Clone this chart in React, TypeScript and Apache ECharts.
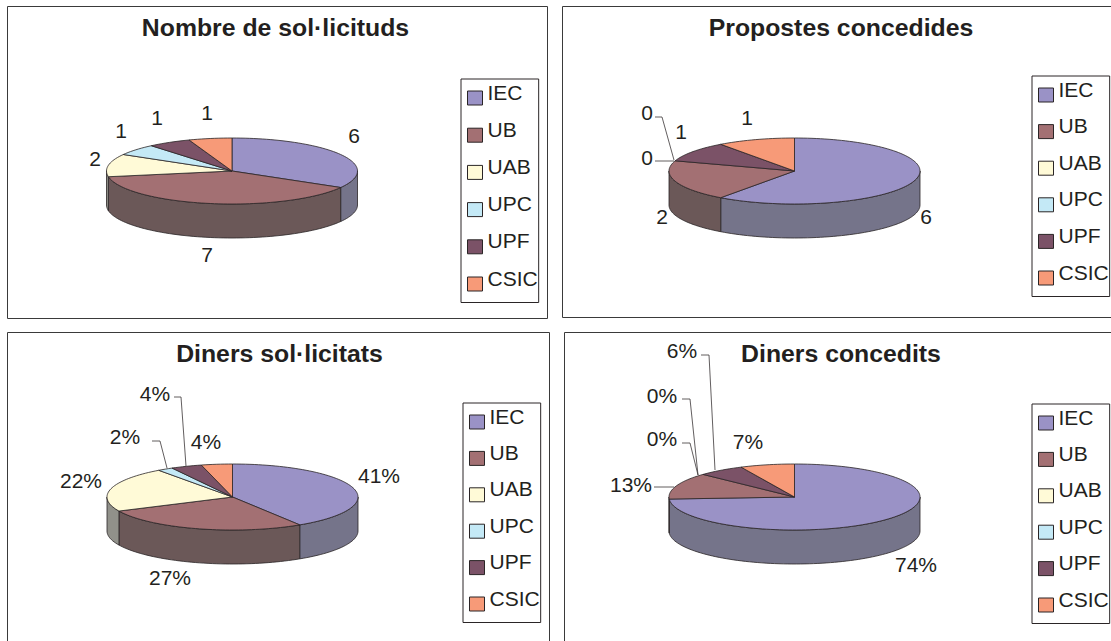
import React, { useEffect, useRef } from "react";
import * as echarts from "echarts";

const categories = ["IEC", "UB", "UAB", "UPC", "UPF", "CSIC"];
const titles = ["Nombre de sol·licituds", "Propostes concedides", "Diners sol·licitats", "Diners concedits"];
const nombreSollicituds = [6, 7, 2, 1, 1, 1];
const propostesConcedides = [6, 2, 0, 0, 1, 1];
const dinersSollicitats = [41, 27, 22, 2, 4, 4];
const dinersConcedits = [74, 13, 0, 0, 6, 7];
const allValues = [nombreSollicituds, propostesConcedides, dinersSollicitats, dinersConcedits];
const labelSuffix = ["", "", "%", "%"];

const topColors = ["#9a92c6", "#a37073", "#fffad7", "#c4e9f6", "#7b5267", "#f79a78"];
const wallColors = ["#75748a", "#6b5858", "#91918a", "#8aa0a8", "#55404c", "#a8705a"];
const INK = "#231f20";
const FONT = "'Liberation Sans', Arial, sans-serif";

const W = 1111, H = 641;
const RX = 125.5, RY = 33, DEPTH = 34;
const centers = [[232, 171], [794.5, 171], [232.5, 497], [794.5, 497]];
const panels = [[7, 6, 540, 312], [562, 6, 560, 311], [7, 332, 542, 320], [564, 332, 560, 320]];
const titlePos = [[275.5, 29], [841, 29], [279.5, 355], [841, 355]];
const legendPos = [[461, 79], [1032, 76], [463, 403], [1032, 404]];
const legendGaps = [13.2, 12.6, 12.4, 12.4];

const labelPos = [
  [[354, 135], [207, 254], [95, 158], [121, 130], [157, 117], [207, 112]],
  [[926, 216], [662, 216], [647, 157], [647, 112], [681, 131], [747, 117]],
  [[379, 475], [170, 577], [81, 480], [125, 436], [155, 393], [206, 441]],
  [[916, 564], [631, 484], [662, 438], [662, 395], [682, 350], [748, 441]],
];
const leaders: (number[][] | null)[][] = [
  [null, null, null, null, null, null],
  [null, null, [[655, 161], [674, 161]], [[655, 117], [662, 117], [674, 160]], null, null],
  [null, null, null, [[152, 441], [160, 441], [167, 468]], [[174, 397], [181, 397], [186, 466]], null],
  [null, [[654, 487], [674, 487]], [[682, 443], [690, 443], [698, 475]], [[682, 399], [690, 399], [698, 475]], [[701, 355], [709, 355], [715, 470]], null],
];

const pt = (cx: number, cy: number, deg: number, dy = 0) => {
  const a = (deg * Math.PI) / 180;
  return [cx + RX * Math.sin(a), cy - RY * Math.cos(a) + dy];
};
const arc = (cx: number, cy: number, a0: number, a1: number, dy = 0) => {
  const out: number[][] = [];
  const n = Math.max(2, Math.ceil((a1 - a0) / 2));
  for (let i = 0; i <= n; i++) out.push(pt(cx, cy, a0 + ((a1 - a0) * i) / n, dy));
  return out;
};

const makeRenderItem = (pieIdx: number, catIdx: number) => (_: any, api: any) => {
  const value = api.value(0), start = api.value(1), total = api.value(2);
  const [cx, cy] = centers[pieIdx];
  const a0 = (start / total) * 360, a1 = ((start + value) / total) * 360;
  const children: any[] = [];
  if (value > 0) {
    const w0 = Math.max(a0, 90), w1 = Math.min(a1, 270);
    if (w1 > w0) {
      children.push({
        type: "polygon",
        z2: 1,
        shape: { points: [...arc(cx, cy, w0, w1), ...arc(cx, cy, w0, w1, DEPTH).reverse()] },
        style: { fill: wallColors[catIdx], stroke: "#2a2526", lineWidth: 0.8 },
      });
    }
    children.push({
      type: "polygon",
      z2: 2,
      shape: { points: [[cx, cy], ...arc(cx, cy, a0, a1)] },
      style: { fill: topColors[catIdx], stroke: "#2a2526", lineWidth: 0.8 },
    });
  }
  const line = leaders[pieIdx][catIdx];
  if (line) {
    children.push({
      type: "polyline",
      z2: 3,
      shape: { points: line },
      style: { fill: "none", stroke: "#3a3536", lineWidth: 0.8 },
    });
  }
  const [lx, ly] = labelPos[pieIdx][catIdx];
  children.push({
    type: "text",
    z2: 4,
    x: lx,
    y: ly,
    style: {
      text: `${value}${labelSuffix[pieIdx]}`,
      fontSize: 21,
      fontFamily: FONT,
      fill: INK,
      align: "center",
      verticalAlign: "middle",
    },
  });
  return { type: "group", children };
};

export default function App() {
  const ref = useRef<HTMLDivElement>(null);
  useEffect(() => {
    const chart = echarts.init(ref.current!, undefined, { renderer: "svg", width: W, height: H });
    const series: any[] = [];
    allValues.forEach((vals, p) => {
      const total = vals.reduce((s, v) => s + v, 0);
      let cum = 0;
      vals.forEach((v, c) => {
        series.push({
          type: "custom",
          name: categories[c],
          coordinateSystem: "none",
          silent: true,
          itemStyle: { color: topColors[c] },
          data: [[v, cum, total]],
          renderItem: makeRenderItem(p, c),
        });
        cum += v;
      });
    });
    chart.setOption({
      animation: false,
      backgroundColor: "#ffffff",
      title: titles.map((t, i) => ({
        text: t,
        left: titlePos[i][0],
        top: titlePos[i][1] - 14,
        textAlign: "center",
        padding: 0,
        textStyle: { fontFamily: FONT, fontSize: 24.8, fontWeight: "bold", color: INK },
      })),
      legend: legendPos.map(([x, y], i) => ({
        orient: "vertical",
        left: x,
        top: y,
        data: categories,
        icon: "rect",
        selectedMode: false,
        itemWidth: 15,
        itemHeight: 14,
        itemGap: legendGaps[i],
        padding: [2.5, 1, 11, 6],
        backgroundColor: "#ffffff",
        borderColor: "#2a2526",
        borderWidth: 1,
        itemStyle: { borderColor: "#2a2526", borderWidth: 1 },
        formatter: "{a|{name}}",
        textStyle: {
          fontFamily: FONT,
          fontSize: 21,
          color: INK,
          rich: { a: { fontFamily: FONT, fontSize: 21, color: INK, padding: [0, 0, 12, 0] } },
        },
      })),
      graphic: panels.map(([x, y, w, h]) => ({
        type: "rect",
        z: -1,
        silent: true,
        shape: { x: x + 0.5, y: y + 0.5, width: w, height: h },
        style: { fill: "#ffffff", stroke: "#3a3a3a", lineWidth: 1 },
      })),
      series,
    });
    return () => chart.dispose();
  }, []);
  return <div ref={ref} style={{ position: "fixed", left: 0, top: 0, width: W, height: H }} />;
}
